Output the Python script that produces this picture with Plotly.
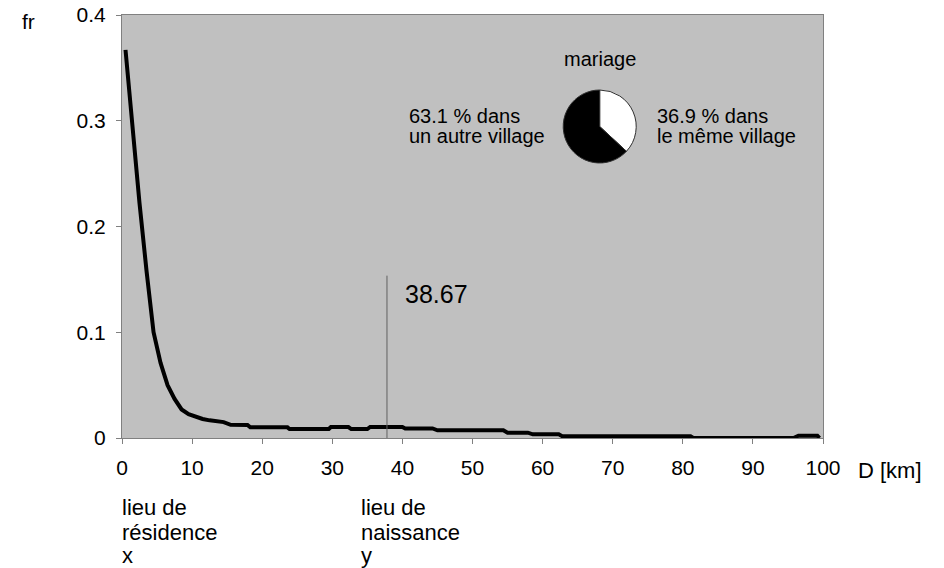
import plotly.graph_objects as go

# ---------------- data ----------------
dist_km = [0.5, 1.5, 2.5, 3.5, 4.5, 5.5, 6.5, 7.5, 8.5, 9.5, 10.5, 11.5, 12.5, 13.5,
           14.5, 15.5, 17.9, 18.3, 23.6, 23.9, 29.5, 29.8, 32.3, 32.7, 35.0, 35.4,
           40.0, 40.4, 44.3, 45.0, 54.4, 55.0, 57.9, 58.6, 62.3, 62.8, 81.1, 81.5,
           95.8, 96.5, 99.2, 99.5]
freq = [0.367, 0.292, 0.222, 0.158, 0.100, 0.071, 0.050, 0.037, 0.027, 0.0225, 0.020,
        0.018, 0.0167, 0.016, 0.015, 0.0125, 0.0123, 0.0101, 0.0101, 0.0085, 0.0085,
        0.0104, 0.0104, 0.0085, 0.0085, 0.0104, 0.0104, 0.009, 0.009, 0.0073, 0.0073,
        0.005, 0.005, 0.0035, 0.0035, 0.0017, 0.0017, 0.0, 0.0, 0.0022, 0.0022, 0.0]

marker_x = [37.8, 37.8]
marker_y = [0.0, 0.1535]
marker_label = "38.67"

x_ticks = [0, 10, 20, 30, 40, 50, 60, 70, 80, 90, 100]
x_ticktext = ["0", "10", "20", "30", "40", "50", "60", "70", "80", "90", "100"]
y_ticks = [0, 0.1, 0.2, 0.3, 0.4]
y_ticktext = ["0", "0.1", "0.2", "0.3", "0.4"]

pie_labels = ["dans le même village", "dans un autre village"]
pie_values = [36.9, 63.1]
pie_colors = ["#ffffff", "#000000"]

# ---------------- layout geometry ----------------
OFF = 8                      # default body margin of the html page
W, H = 936, 560
ML, MR, MT, MB = 114, 121, 7, 130
PW, PH = W - ML - MR, H - MT - MB

def px_x(px):               # page pixel -> paper x
    return (px - OFF - ML) / PW

def px_y(py):               # page pixel -> paper y
    return (H - MB - (py - OFF)) / PH

FONT = "Liberation Sans, Arial, sans-serif"

fig = go.Figure()

fig.add_trace(go.Scatter(
    x=dist_km, y=freq, mode="lines",
    line=dict(color="#000000", width=4),
    hoverinfo="skip", showlegend=False,
))

fig.add_trace(go.Scatter(
    x=marker_x, y=marker_y, mode="lines",
    line=dict(color="#606060", width=1),
    hoverinfo="skip", showlegend=False,
))

fig.add_trace(go.Pie(
    labels=pie_labels, values=pie_values, sort=False, direction="clockwise",
    rotation=0, textinfo="none", hoverinfo="skip", showlegend=False,
    marker=dict(colors=pie_colors, line=dict(color="#303030", width=1)),
    domain=dict(x=[px_x(563.2), px_x(636.2)], y=[px_y(163), px_y(90)]),
))

axis_common = dict(
    showgrid=False, zeroline=False, showline=True, linecolor="#808080", linewidth=1,
    mirror=True, ticks="outside", ticklen=5, tickcolor="#808080", tickwidth=1,
    tickfont=dict(family=FONT, size=21, color="#000000"), automargin=False,
    ticklabeloverflow="allow",
)

fig.update_layout(
    width=W, height=H, showlegend=False,
    margin=dict(l=ML, r=MR, t=MT, b=MB, pad=0, autoexpand=False),
    paper_bgcolor="#ffffff", plot_bgcolor="#c0c0c0",
    xaxis=dict(range=[0, 100], tickvals=x_ticks, ticktext=x_ticktext,
               ticklabelstandoff=6, **axis_common),
    yaxis=dict(range=[0, 0.4], tickvals=y_ticks, ticktext=y_ticktext,
               ticklabelstandoff=6, **axis_common),
    font=dict(family=FONT, color="#000000"),
)

def note(text, x, y, size, xanchor="left", yanchor="middle"):
    fig.add_annotation(text=text, x=x, y=y, xref="paper", yref="paper",
                       xanchor=xanchor, yanchor=yanchor, showarrow=False,
                       font=dict(family=FONT, size=size, color="#000000"))

# axis titles
note("fr", px_x(20), px_y(OFF), 21, yanchor="top")
note("D [km]", px_x(856), px_y(470.3), 22)

# bottom labels
for lines, xl in ((["lieu de", "résidence", "x"], 120.0), (["lieu de", "naissance", "y"], 358.5)):
    for txt, yc in zip(lines, (507.3, 532.3, 555.3)):
        note(txt, px_x(xl), px_y(yc), 22)

# marker value
note(marker_label, px_x(402.5), px_y(293.7), 25)

# pie texts
note("mariage", px_x(599.7), px_y(59), 20, xanchor="center")
note("63.1 % dans", px_x(406.5), px_y(115.6), 20)
note("un autre village", px_x(406.5), px_y(135.6), 20)
note("36.9 % dans", px_x(655), px_y(115.6), 20)
note("le même village", px_x(655), px_y(135.6), 20)

fig.write_html("out.html")
